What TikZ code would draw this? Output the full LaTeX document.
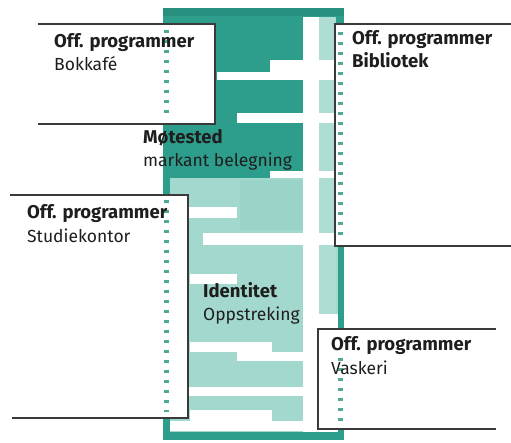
\documentclass[tikz,border=0pt]{standalone}
\usepackage{fontspec}
\setmainfont{Fira Sans}
\definecolor{Teal}{HTML}{2D9E8B}
\definecolor{DarkTeal}{HTML}{268F7D}
\definecolor{MidTeal}{HTML}{9AD3C8}
\definecolor{LightTeal}{HTML}{A3D8CE}
\definecolor{PaleTeal}{HTML}{AEDDD4}
\definecolor{TickTeal}{HTML}{52A797}
\definecolor{Ink}{HTML}{1E1E1E}
\definecolor{Rule}{HTML}{3A3A3A}

\begin{document}
\begin{tikzpicture}[x=1pt,y=-1pt]
    \tikzset{
      rule/.style={draw=Rule,line width=1.1pt},
      ticks/.style={draw=TickTeal,line width=5.5pt,dash pattern=on 2.5pt off 7.5pt},
      txt/.style={anchor=base west,inner sep=0pt,text=Ink,font=\fontsize{17.5}{21}\selectfont},
      txtbold/.style={txt,font=\fontsize{18.5}{22}\selectfont\bfseries}
    }
    \useasboundingbox (0,0) rectangle (511,442);
    % strip
    \fill[Teal] (163,8) rectangle (344,440);
    \fill[DarkTeal] (163,8) rectangle (344,16);
    \fill[LightTeal] (170,178) rectangle (338,432);
    \fill[MidTeal] (240,180) rectangle (303,230);
    \fill[PaleTeal] (319,17) rectangle (336,314);
    \fill[white] (303,17) rectangle (319,432);
    \fill[white] (303,314) rectangle (338,432);
    \foreach \xa/\ya/\xb/\yb in {270/60/336/72,217/72/336/80,237/113/336/123,
        270/171/336/178,188/207/237/218,203/233/336/245,190/274/237/284,
        190/342/272/352,237/352/303/361,170/387/303/396,190/410/272/431,170/421/338/431}
      \fill[white] (\xa,\ya) rectangle (\xb,\yb);
    % boxes
    \fill[white] (38,24) rectangle (215,124);
    \fill[white] (335,24) rectangle (511,246);
    \fill[white] (10,195) rectangle (188,418);
    \fill[white] (318,329) rectangle (496,429);
    \draw[ticks] (166.5,30) -- (166.5,118);
    \draw[ticks] (340.5,32) -- (340.5,240);
    \draw[ticks] (166.5,200) -- (166.5,412);
    \draw[ticks] (340.5,358) -- (340.5,424);
    \draw[rule] (38,24) -- (215,24) -- (215,124) -- (38,124);
    \draw[rule] (511,24) -- (335,24) -- (335,246) -- (511,246);
    \draw[rule] (10,195) -- (188,195) -- (188,418) -- (12,418);
    \draw[rule] (496,329) -- (318,329) -- (318,429) -- (496,429);
    % labels
    \node[txtbold] (kafe) at (54,47) {Off. programmer};
    \node[txt] (kafe2) at (54,70) {Bokkafé};
    \node[txtbold] (bib) at (352,44) {Off. programmer};
    \node[txtbold] (bib2) at (352,67) {Bibliotek};
    \node[txtbold] (mote) at (143,143) {Møtested};
    \node[txt] (mote2) at (143,166) {markant belegning};
    \node[txtbold] (studie) at (27,218) {Off. programmer};
    \node[txt] (studie2) at (27,242) {Studiekontor};
    \node[txtbold] (ident) at (203,297) {Identitet};
    \node[txt] (ident2) at (203,320) {Oppstreking};
    \node[txtbold] (vask) at (331,350) {Off. programmer};
    \node[txt] (vask2) at (331,374) {Vaskeri};
\end{tikzpicture}
\end{document}
